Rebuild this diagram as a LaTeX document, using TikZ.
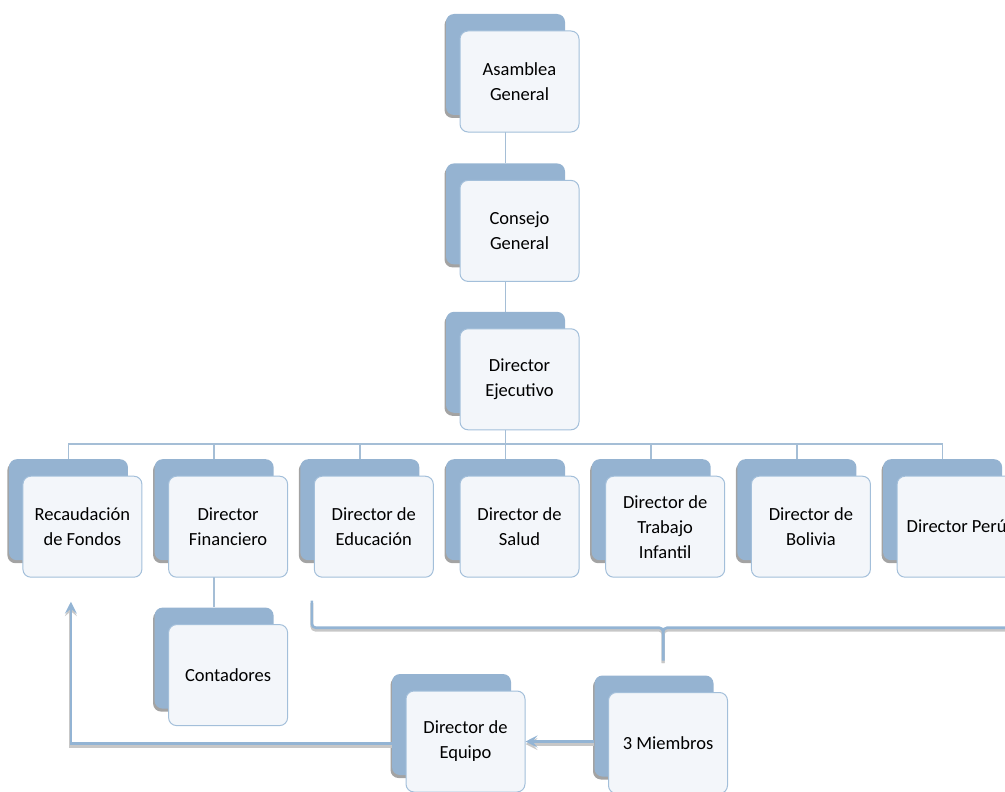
\documentclass[tikz,border=0pt]{standalone}
\usepackage{fontspec}
\setmainfont{Carlito}
\usetikzlibrary{arrows.meta, positioning, calc, shadows, backgrounds}
\definecolor{boxblue}{HTML}{95B3D1}
\definecolor{boxface}{HTML}{F3F6FA}
\definecolor{boxline}{HTML}{A3BFDA}
\definecolor{linkblue}{HTML}{A5BED6}
\definecolor{flowblue}{HTML}{93B4D4}

\begin{document}
\begin{tikzpicture}[
	  x=1pt, y=-1pt,
	  font=\fontsize{18.5}{25}\selectfont,
	  backbox/.style={
	    rounded corners=8pt,
	    fill=boxblue,
	    minimum width=119pt,
	    minimum height=101pt,
	    inner sep=0pt,
	    drop shadow={shadow xshift=-1.5pt, shadow yshift=-3pt, opacity=0.45, fill=black!80}
	  },
	  frontbox/.style={
	    draw=boxline,
	    line width=1pt,
	    rounded corners=8pt,
	    fill=boxface,
	    align=center,
	    minimum width=119pt,
	    minimum height=101pt,
	    inner sep=2pt,
	    text=black
	  },
	  link/.style={draw=linkblue, line width=1.5pt},
	  flow/.style={draw=flowblue, line width=2.6pt,
	    preaction={draw=black!22, line width=3pt, transform canvas={yshift=-2.5pt}}},
	  flowarrow/.style={flow, -{Stealth[length=12pt, width=12pt, inset=5pt]}}
	]
	\useasboundingbox (0,0) rectangle (1005,792);
	
	% Main column
	\node[backbox] (asambleaB) at (505.5,64.5) {};
	\node[frontbox] (asamblea) at ([shift={(14,17)}]asambleaB) {Asamblea\\General};
	
	\node[backbox, below=48pt of asambleaB] (consejoB) {};
	\node[frontbox] (consejo) at ([shift={(14,17)}]consejoB) {Consejo\\General};
	
	\node[backbox, below=47pt of consejoB] (ejecutivoB) {};
	\node[frontbox] (ejecutivo) at ([shift={(14,17)}]ejecutivoB) {Director\\Ejecutivo};
	
	% Directors row
	\node[backbox, below=46pt of ejecutivoB] (saludB) {};
	\node[frontbox] (salud) at ([shift={(14,17)}]saludB) {Director de\\Salud};
	
	\node[backbox, left=26.3pt of saludB] (educacionB) {};
	\node[frontbox] (educacion) at ([shift={(14,17)}]educacionB) {Director de\\Educación};
	
	\node[backbox, left=26.3pt of educacionB] (financieroB) {};
	\node[frontbox] (financiero) at ([shift={(14,17)}]financieroB) {Director\\Financiero};
	
	\node[backbox, left=26.3pt of financieroB] (fondosB) {};
	\node[frontbox] (fondos) at ([shift={(14,17)}]fondosB) {Recaudación\\de Fondos};
	
	\node[backbox, right=26.3pt of saludB] (trabajoB) {};
	\node[frontbox] (trabajo) at ([shift={(14,17)}]trabajoB) {Director de\\Trabajo\\Infantil};
	
	\node[backbox, right=26.3pt of trabajoB] (boliviaB) {};
	\node[frontbox] (bolivia) at ([shift={(14,17)}]boliviaB) {Director de\\Bolivia};
	
	\node[backbox, right=26.3pt of boliviaB] (peruB) {};
	\node[frontbox] (peru) at ([shift={(14,17)}]peruB) {Director Perú};
	
	% Lower nodes
	\node[backbox, below=47pt of financieroB] (contadoresB) {};
	\node[frontbox] (contadores) at ([shift={(14,17)}]contadoresB) {Contadores};
	
	\node[backbox] (equipoB) at (451.5,724.5) {};
	\node[frontbox] (equipo) at ([shift={(14,17)}]equipoB) {Director de\\Equipo};
	
	\node[backbox] (miembrosB) at (654,726) {};
	\node[frontbox] (miembros) at ([shift={(14,17)}]miembrosB) {3 Miembros};
	
	% Tree lines
	\begin{scope}[on background layer]
	\draw[link] (asambleaB.south) -- (consejoB.north);
	\draw[link] (consejoB.south) -- (ejecutivoB.north);
	\coordinate (bus) at ($(ejecutivoB.south)+(0,31)$);
	\draw[link] (ejecutivoB.south) -- (bus) -| (fondosB.north);
	\draw[link] (bus) -| (financieroB.north);
	\draw[link] (bus) -| (educacionB.north);
	\draw[link] (bus) -- (saludB.north);
	\draw[link] (bus) -| (trabajoB.north);
	\draw[link] (bus) -| (boliviaB.north);
	\draw[link] (bus) -| (peruB.north);
	\draw[link] (financieroB.south) -- (contadoresB.north);
	\end{scope}
	
	% Brace under the directors
	\coordinate (braceL) at ($(educacion.south west)+(-2,23)$);
	\coordinate (braceR) at ($(peru.south east)+(-2,23)$);
	\coordinate (braceM) at ($(braceL)!0.5!(braceR)+(0,60)$);
	\draw[flow, rounded corners=4pt] (braceL) -- ++(0,27) -| (braceM);
	\draw[flow, rounded corners=4pt] (braceR) -- ++(0,27) -| (braceM);
	
	% Reporting arrows
	\draw[flowarrow] (miembrosB.west |- equipo.east) -- (equipo.east);
	\coordinate (fondosTip) at ($(fondosB.center |- fondos.south)+(2.5,24)$);
	\draw[flowarrow] ($(equipoB.west |- equipo.east)+(0,2)$) -| (fondosTip);
	
	\end{tikzpicture}
\end{document}
